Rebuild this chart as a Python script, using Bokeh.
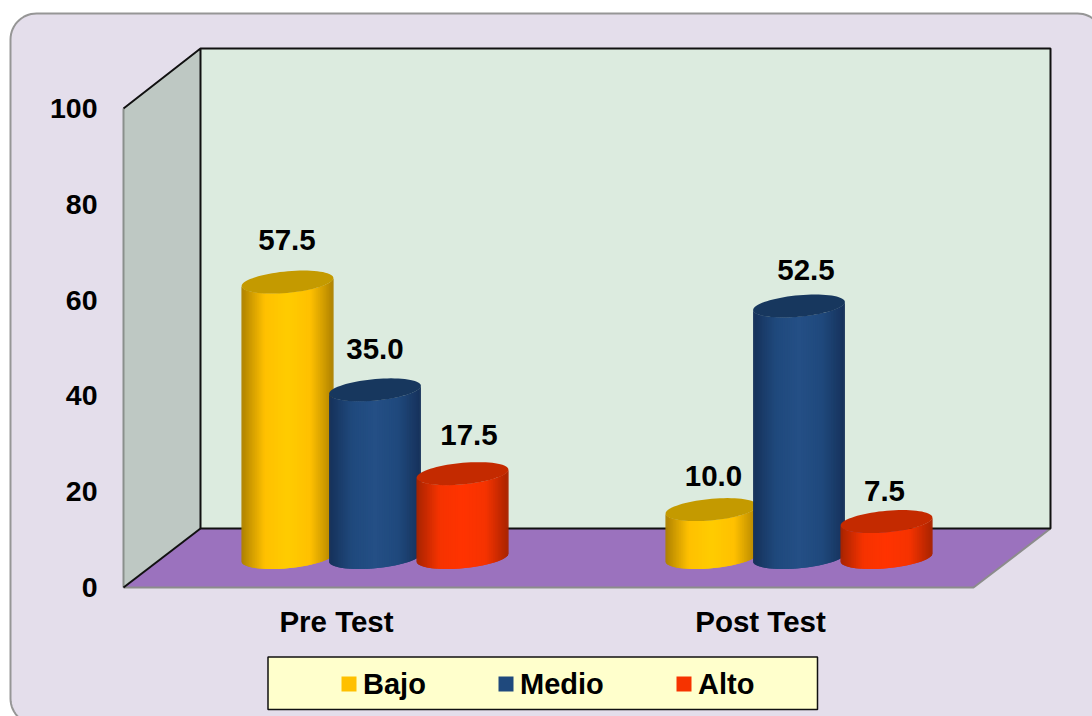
import numpy as np
from bokeh.core.properties import value as fixed
from bokeh.embed import file_html
from bokeh.models import FixedTicker, LinearAxis, Range1d
from bokeh.plotting import figure
from bokeh.resources import INLINE

# Chart data
categories = ["Pre Test", "Post Test"]
series_names = ["Bajo", "Medio", "Alto"]
bajo = [57.5, 10.0]
medio = [35.0, 52.5]
alto = [17.5, 7.5]
y_ticks = [0, 20, 40, 60, 80, 100]

# Hand placement of the value labels, in pixels from the top of each cylinder
label_nudge = {
    "Bajo": [(-0.5, -42.5), (2, -33.5)],
    "Medio": [(0, -40.5), (7, -36)],
    "Alto": [(6.5, -38.5), (-2, -30.5)],
}

# Colours per series: edge, mid, centre, top face
palette = {
    "Bajo": ("#AE8200", "#FFC000", "#FFCC00", "#C49A00"),
    "Medio": ("#16315A", "#1F497D", "#244F85", "#17375E"),
    "Alto": ("#A82400", "#F63300", "#FF3300", "#C42A00"),
}

WIDTH, HEIGHT = 1092, 716
FONT = "Liberation Sans"
# Page geometry: where the front of the value axis and the categories sit
X0, X_STEP = 336.0, 424.0
Y0, Y_UNIT = 587.0, 4.79
DEPTH_X, DEPTH_Y = 77.0, 60.0
BAR_STEP = 87.5
RX, SKEW, RY = 43.0, 16.0, 11.5


def dx(px):
    return (np.asarray(px, dtype=float) - X0) / X_STEP


def dy(py):
    return (Y0 - np.asarray(py, dtype=float)) / Y_UNIT


p = figure(
    width=WIDTH, height=HEIGHT,
    x_range=Range1d(float(dx(0)), float(dx(WIDTH))),
    y_range=Range1d(float(dy(HEIGHT)), float(dy(0))),
    output_backend="svg", toolbar_location=None,
    x_axis_type=None, y_axis_type=None,
    min_border=0, min_border_left=0, min_border_right=0,
    min_border_top=0, min_border_bottom=0,
    outline_line_color=None, background_fill_color="white",
    border_fill_color="white",
)
p.grid.visible = False


def polygon(xs, ys, fill, line=None, width=1.0):
    p.patch(dx(xs).tolist(), dy(ys).tolist(), fill_color=fill,
            line_color=line, line_width=width)


def segment(xs, ys, color, width):
    p.line(dx(xs).tolist(), dy(ys).tolist(), line_color=color, line_width=width)


# Rounded panel running off the right and bottom of the page
L, T, R, B, RAD = 10.0, 13.0, 1103.0, 724.0, 26.0
arc = np.linspace(0, np.pi / 2, 16)
panel_x = np.concatenate([L + RAD - RAD * np.cos(arc), R - RAD + RAD * np.sin(arc),
                          R - RAD + RAD * np.cos(arc), L + RAD - RAD * np.sin(arc)])
panel_y = np.concatenate([T + RAD - RAD * np.sin(arc), T + RAD - RAD * np.cos(arc),
                          B - RAD + RAD * np.sin(arc), B - RAD + RAD * np.cos(arc)])
polygon(panel_x, panel_y, "#E4DEEB", "#969696", 2)

# 3D box: side wall, back wall, floor
FL, BL, BR = 123.0, 200.0, 1050.0
FR = BR - DEPTH_X
YF, YB, YT_F, YT_B = 587.0, 528.0, 108.0, 48.0
polygon([FL, BL, BL, FL], [YT_F, YT_B, YB, YF], "#BEC8C3")
polygon([BL, BR, BR, BL], [YT_B, YT_B, YB, YB], "#DCEBDF")
polygon([FL, BL, BR, FR], [YF, YB, YB, YF], "#9B72BE")
segment([FL, FL], [YT_F, YF], "#8A8F8C", 2)
segment([FL, FR, BR], [YF, YF, YB], "#8C8C8C", 2)
segment([FL, BL, BR, BR, BL, BL], [YT_F, YT_B, YT_B, YB, YB, YT_B], "#111111", 2)
segment([FL, BL], [YF, YB], "#111111", 2)


def shade(stops, s):
    """Horizontal cylinder shading; s runs 0..1 across the body."""
    edge, mid, centre = [np.array([int(c[i:i + 2], 16) for i in (1, 3, 5)], float)
                         for c in stops[:3]]
    d = abs(s - 0.5) * 2
    if d < 0.5:
        rgb = centre + (mid - centre) * d / 0.5
    else:
        rgb = mid + (edge - mid) * (d - 0.5) / 0.5
    return "#%02x%02x%02x" % tuple(int(round(v)) for v in rgb)


def cylinder(name, cx, val):
    stops = palette[name]
    base = Y0 - DEPTH_Y / 2
    top = base - val * Y_UNIT
    t0 = np.arctan2(-SKEW, RX)
    ts = np.linspace(t0 + np.pi, t0, 61)
    ex = RX * np.cos(ts) - SKEW * np.sin(ts)
    ey = RY * np.sin(ts)
    span = ex[-1] - ex[0]
    xs, ys, colors = [], [], []
    # Each strip runs on under the next one, so no seams show between them
    for i in range(len(ts) - 1):
        j = min(i + 2, len(ts) - 1)
        xa, xb = cx + ex[i], cx + ex[j]
        xs.append(dx([xa, xb, xb, xa]).tolist())
        ys.append(dy([top + ey[i], top + ey[j], base + ey[j], base + ey[i]]).tolist())
        colors.append(shade(stops, (ex[i] + ex[i + 1]) / 2 / span + 0.5))
    p.patches(xs, ys, fill_color=colors, line_color=None)
    # Top face
    full = np.linspace(0, 2 * np.pi, 73)
    polygon(cx + RX * np.cos(full) - SKEW * np.sin(full), top + RY * np.sin(full), stops[3])
    return top


# Cylinders with their value labels, which sit above everything else
labels = []
for c_idx in range(len(categories)):
    centre = X0 + X_STEP * c_idx + DEPTH_X / 2
    for s_idx, (name, vals) in enumerate(zip(series_names, (bajo, medio, alto))):
        cx = centre + (s_idx - 1) * BAR_STEP
        top = cylinder(name, cx, vals[c_idx])
        ox, oy = label_nudge[name][c_idx]
        labels.append((cx + ox, top + oy, f"{vals[c_idx]:.1f}"))

p.text(dx([l[0] for l in labels]).tolist(), dy([l[1] for l in labels]).tolist(),
       text=[l[2] for l in labels], text_font=fixed(FONT), text_font_style="bold",
       text_font_size="29.5px", text_color="black", text_align="center",
       text_baseline="middle")

# Axes drawn inside the page, without lines or tick marks
y_axis = LinearAxis(ticker=FixedTicker(ticks=y_ticks), fixed_location=float(dx(FL)),
                    major_label_standoff=20, axis_line_color=None,
                    major_tick_line_color=None, minor_tick_line_color=None,
                    major_label_text_font=FONT, major_label_text_font_style="bold",
                    major_label_text_font_size="28.5px", major_label_text_color="black")
p.add_layout(y_axis, "left")

x_axis = LinearAxis(ticker=FixedTicker(ticks=[0, 1]), fixed_location=0,
                    major_label_overrides={i: c for i, c in enumerate(categories)},
                    major_label_standoff=11, axis_line_color=None,
                    major_tick_line_color=None, minor_tick_line_color=None,
                    major_label_text_font=FONT, major_label_text_font_style="bold",
                    major_label_text_font_size="29.5px", major_label_text_color="black")
p.add_layout(x_axis, "below")

# Legend box
polygon([267.5, 817, 817, 267.5], [656.5, 656.5, 709, 709], "#FFFFCC", "#111111", 1.5)
for name, sx in zip(series_names, (341.0, 498.0, 676.0)):
    polygon([sx, sx + 15, sx + 15, sx], [676, 676, 691, 691], palette[name][1])
    p.text([float(dx(sx + 21.5))], [float(dy(683))], text=[name], text_font=fixed(FONT),
           text_font_style="bold", text_font_size="29px", text_color="black",
           text_align="left", text_baseline="middle")

open("out.html", "w").write(file_html(p, INLINE))
